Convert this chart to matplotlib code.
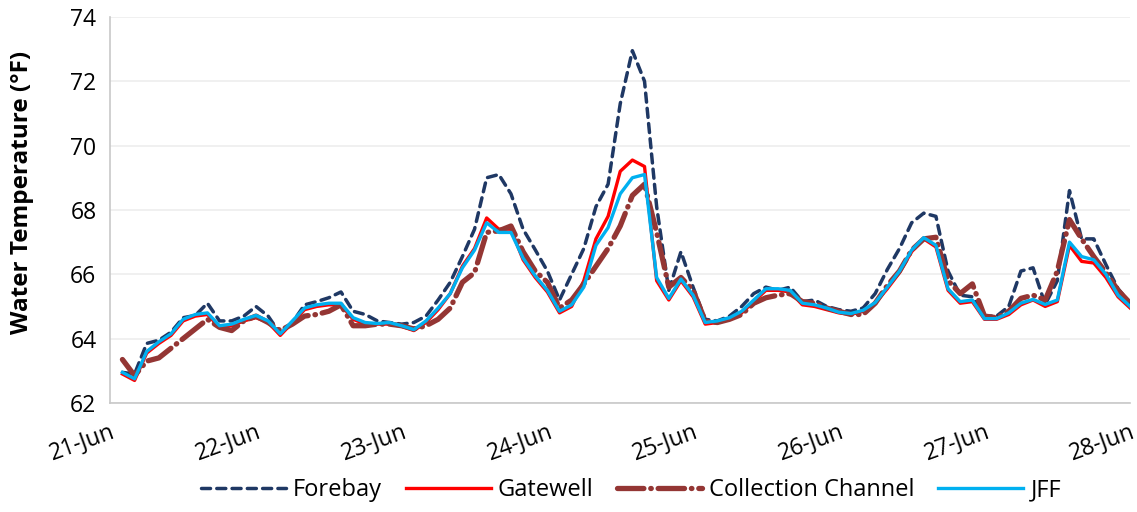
import numpy as np
import matplotlib.pyplot as plt

plt.rcParams['font.family'] = ['Open Sans', 'DejaVu Sans']

# hours since 21-Jun 00:00, every 2 hours
hours = np.arange(2, 170, 2)

jff = [62.95, 62.75, 63.6, 63.9, 64.15, 64.6, 64.75, 64.8, 64.4, 64.45, 64.6, 64.72,
       64.55, 64.15, 64.55, 64.95, 65.05, 65.1, 65.1, 64.65, 64.5, 64.47, 64.5, 64.4,
       64.28, 64.55, 64.95, 65.4, 66.2, 66.75, 67.6, 67.3, 67.3, 66.5, 65.95, 65.5,
       64.85, 65.05, 65.6, 66.9, 67.45, 68.5, 69.0, 69.1, 65.9, 65.25, 65.85, 65.35,
       64.5, 64.55, 64.65, 64.85, 65.2, 65.55, 65.55, 65.5, 65.1, 65.05, 64.95, 64.82,
       64.78, 64.88, 65.12, 65.6, 66.1, 66.75, 67.14, 66.9, 65.55, 65.15, 65.2, 64.62,
       64.62, 64.8, 65.1, 65.22, 65.06, 65.2, 67.0, 66.55, 66.45, 66.0, 65.35, 65.0]

gatewell = [62.9, 62.7, 63.55, 63.85, 64.1, 64.55, 64.7, 64.75, 64.35, 64.4, 64.55, 64.65,
            64.5, 64.1, 64.5, 64.9, 65.0, 65.05, 65.05, 64.6, 64.45, 64.45, 64.45, 64.38,
            64.25, 64.5, 64.9, 65.4, 66.25, 66.8, 67.75, 67.4, 67.4, 66.45, 65.9, 65.45,
            64.8, 65.0, 65.8, 67.1, 67.8, 69.2, 69.55, 69.35, 65.8, 65.2, 65.8, 65.3,
            64.45, 64.5, 64.6, 64.8, 65.15, 65.5, 65.5, 65.45, 65.05, 65.0, 64.9, 64.8,
            64.75, 64.85, 65.1, 65.55, 66.05, 66.7, 67.1, 66.85, 65.5, 65.1, 65.15, 64.6,
            64.6, 64.75, 65.05, 65.2, 65.0, 65.15, 66.9, 66.4, 66.35, 65.9, 65.3, 64.95]

collection = [63.35, 62.85, 63.3, 63.4, 63.7, 64.0, 64.3, 64.6, 64.35, 64.25, 64.55, 64.7,
              64.5, 64.25, 64.45, 64.7, 64.75, 64.85, 65.05, 64.4, 64.4, 64.45, 64.45, 64.4,
              64.3, 64.4, 64.6, 64.95, 65.75, 66.05, 67.3, 67.35, 67.5, 66.7, 66.1, 65.75,
              64.95, 65.2, 65.7, 66.25, 66.8, 67.5, 68.45, 68.8, 67.3, 65.6, 65.9, 65.5,
              64.55, 64.5, 64.6, 64.75, 65.1, 65.27, 65.35, 65.4, 65.15, 65.1, 64.95, 64.85,
              64.75, 64.75, 65.1, 65.65, 66.1, 66.75, 67.1, 67.15, 65.8, 65.4, 65.7, 64.7,
              64.65, 64.85, 65.25, 65.35, 65.2, 66.1, 67.7, 67.1, 66.55, 66.05, 65.5, 65.1]

forebay = [62.95, 62.9, 63.85, 63.95, 64.2, 64.65, 64.72, 65.1, 64.55, 64.55, 64.7, 65.0,
           64.7, 64.15, 64.5, 65.05, 65.15, 65.27, 65.45, 64.85, 64.75, 64.55, 64.5, 64.45,
           64.5, 64.7, 65.2, 65.75, 66.55, 67.4, 69.0, 69.1, 68.5, 67.4, 66.76, 66.1,
           65.2, 66.0, 66.8, 68.1, 68.8, 71.3, 72.95, 72.0, 68.1, 65.5, 66.7, 65.6,
           64.6, 64.55, 64.7, 65.0, 65.4, 65.6, 65.5, 65.6, 65.15, 65.2, 65.0, 64.9,
           64.85, 64.95, 65.4, 66.15, 66.8, 67.6, 67.9, 67.8, 66.1, 65.35, 65.3, 64.7,
           64.7, 65.0, 66.1, 66.2, 65.06, 65.8, 68.6, 67.1, 67.1, 66.3, 65.55, 65.1]

day_labels = ['21-Jun', '22-Jun', '23-Jun', '24-Jun', '25-Jun', '26-Jun', '27-Jun', '28-Jun']

fig = plt.figure(figsize=(11.37, 5.12), dpi=100)
ax = fig.add_axes([0.097, 0.213, 0.897, 0.754])

ax.plot(hours, forebay, color='#1F3864', lw=2.5, dashes=(2.6, 1.8),
        dash_capstyle='round', label='Forebay')
ax.plot(hours, gatewell, color='#FF0000', lw=2.4, label='Gatewell')
ax.plot(hours, collection, color='#943634', lw=3.8, dashes=(5, 1.3, 0.1, 1.3),
        dash_capstyle='round', label='Collection Channel')
ax.plot(hours, jff, color='#00B0F0', lw=2.4, label='JFF')

ax.set_xlim(0, 168)
ax.set_ylim(62, 74)
ax.set_yticks(np.arange(62, 75, 2))
ax.set_xticks(np.arange(0, 169, 24))
ax.set_xticklabels(day_labels, rotation=20, ha='right', va='top', rotation_mode='anchor')
ax.tick_params(axis='both', length=0, labelsize=16.5, colors='black')
ax.tick_params(axis='x', pad=12)
ax.tick_params(axis='y', pad=10)

ax.grid(axis='y', color='#EEEEEE', lw=1.2)
ax.set_axisbelow(True)
for s in ['top', 'right']:
    ax.spines[s].set_visible(False)
ax.spines['left'].set_color('#C8C8C8')
ax.spines['bottom'].set_color('#C8C8C8')
ax.spines['left'].set_linewidth(1.2)
ax.spines['bottom'].set_linewidth(1.2)

ax.set_ylabel('Water Temperature (°F)', fontsize=17.5, fontweight='bold')
ax.yaxis.set_label_coords(-0.075, 0.545)

fig.legend(loc='center', bbox_to_anchor=(0.555, 0.043), ncol=4, frameon=False,
           fontsize=17, handlelength=3.6, handletextpad=0.3, columnspacing=1.0)

fig.savefig('out.png', dpi=100)
